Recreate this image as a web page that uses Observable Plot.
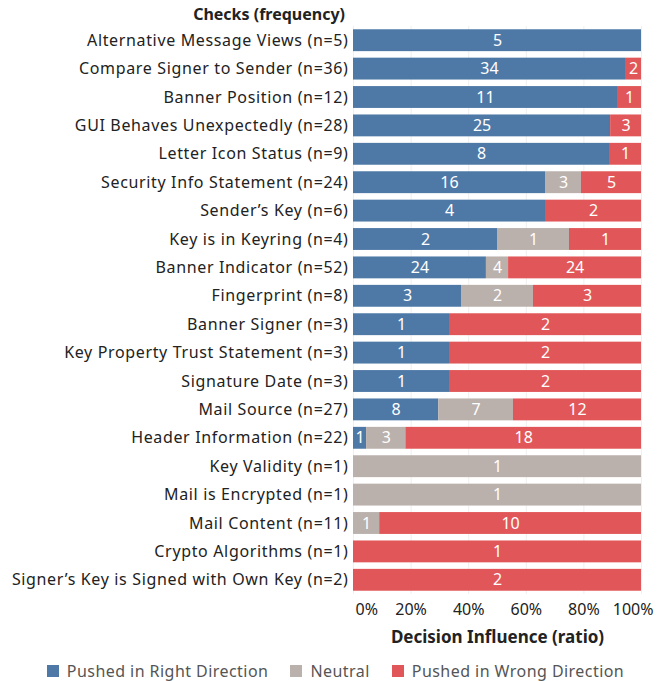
<!DOCTYPE html>
<html>
<head>
<meta charset="utf-8">
<script src="https://cdn.jsdelivr.net/npm/d3@7"></script>
<script src="https://cdn.jsdelivr.net/npm/@observablehq/plot@0.6"></script>
<style>
  body { margin: 0; background: #fff; font-family: "Noto Sans", sans-serif; color: #333; }
  #title { width: 345px; text-align: right; font-weight: bold; font-size: 16px; height: 26px; line-height: 28px; color: #222; }
  #chart g[aria-label="y-axis tick label"] { letter-spacing: 0.65px; }
  #legend { display: flex; justify-content: center; gap: 22px; font-size: 16px; letter-spacing: 0.45px; color: #555; margin-top: 11px; line-height: 20px; padding-left: 2px; }
  #legend span.item { display: flex; align-items: center; gap: 8px; }
  #legend span.sw { width: 12px; height: 12px; display: inline-block; }
</style>
</head>
<body>
<div id="title">Checks (frequency)</div>
<div id="chart"></div>
<div id="legend"></div>
<script>
// Checks and how often each one pushed participants in each direction
const checks = [
  "Alternative Message Views",
  "Compare Signer to Sender",
  "Banner Position",
  "GUI Behaves Unexpectedly",
  "Letter Icon Status",
  "Security Info Statement",
  "Sender’s Key",
  "Key is in Keyring",
  "Banner Indicator",
  "Fingerprint",
  "Banner Signer",
  "Key Property Trust Statement",
  "Signature Date",
  "Mail Source",
  "Header Information",
  "Key Validity",
  "Mail is Encrypted",
  "Mail Content",
  "Crypto Algorithms",
  "Signer’s Key is Signed with Own Key"
];
const rightDir = [5, 34, 11, 25, 8, 16, 4, 2, 24, 3, 1, 1, 1, 8, 1, 0, 0, 0, 0, 0];
const neutral  = [0, 0, 0, 0, 0, 3, 0, 1, 4, 2, 0, 0, 0, 7, 3, 1, 1, 1, 0, 0];
const wrongDir = [0, 2, 1, 3, 1, 5, 2, 1, 24, 3, 2, 2, 2, 12, 18, 0, 0, 10, 1, 2];

const influences = ["Pushed in Right Direction", "Neutral", "Pushed in Wrong Direction"];
const colors = ["#4e79a7", "#bab0ac", "#e15759"];
const xTicks = [0, 0.2, 0.4, 0.6, 0.8, 1];

// Row labels carry the total count of each check
const labels = checks.map((c, i) => `${c} (n=${rightDir[i] + neutral[i] + wrongDir[i]})`);

const rows = [];
checks.forEach((c, i) => {
  [rightDir[i], neutral[i], wrongDir[i]].forEach((v, j) => {
    if (v > 0) rows.push({check: labels[i], influence: influences[j], count: v});
  });
});

const stackOpts = {x: "count", y: "check", z: "influence", order: influences, offset: "normalize"};
const pct = d3.format(".0%");
const tickStyle = {tickSize: 0, tickPadding: 9, tickFormat: pct, fontSize: 16, fill: "#222", label: null};

const chart = Plot.plot({
  width: 669,
  height: 624,
  marginLeft: 353,
  marginRight: 28,
  marginTop: 0,
  marginBottom: 56,
  style: {fontFamily: "Noto Sans, sans-serif", fontSize: "16px", color: "#333"},
  x: {domain: [0, 1], label: null, axis: null},
  y: {domain: labels, label: null, paddingInner: 0.23, paddingOuter: 0.115, round: false, axis: null},
  color: {domain: influences, range: colors},
  marks: [
    Plot.ruleX(xTicks, {stroke: "#efefef"}),
    Plot.barX(rows, Plot.stackX({...stackOpts, fill: "influence"})),
    Plot.text(rows, Plot.stackX({...stackOpts, text: "count", fill: "white", fontSize: 16})),
    Plot.axisY({tickSize: 0, tickPadding: 5, fontSize: 16, fill: "#222"}),
    Plot.axisX([0.2, 0.4, 0.6, 0.8], tickStyle),
    Plot.axisX([0], {...tickStyle, textAnchor: "start", dx: 2}),
    Plot.axisX([1], {...tickStyle, textAnchor: "end", dx: 12}),
    Plot.text(["Decision Influence (ratio)"], {frameAnchor: "bottom", lineAnchor: "middle", dy: 43, fontWeight: "bold", fontSize: 17, fill: "#222"})
  ]
});
document.getElementById("chart").appendChild(chart);

const legend = document.getElementById("legend");
influences.forEach((name, i) => {
  const item = document.createElement("span");
  item.className = "item";
  const sw = document.createElement("span");
  sw.className = "sw";
  sw.style.background = colors[i];
  item.appendChild(sw);
  item.appendChild(document.createTextNode(name));
  legend.appendChild(item);
});
</script>
</body>
</html>
